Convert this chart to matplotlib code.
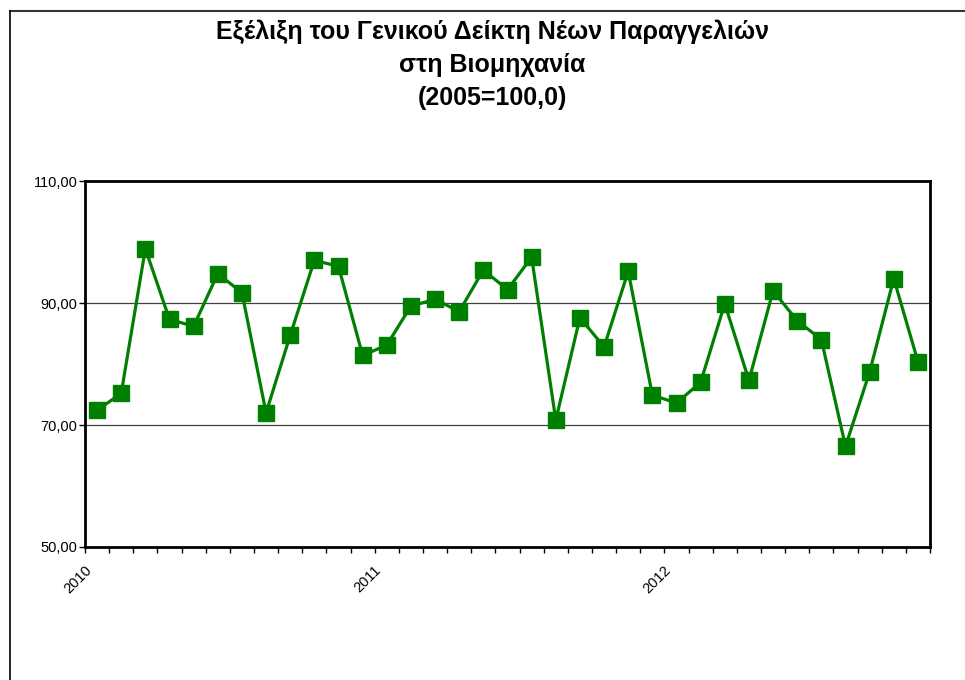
# Γενικός Δείκτης Νέων Παραγγελιών στη Βιομηχανία, 2010-2012 (2005=100,0)

import numpy as np
import pandas as pd
import matplotlib
matplotlib.use('Agg')
import matplotlib.pyplot as plt
from matplotlib.lines import Line2D
from matplotlib.transforms import ScaledTranslation

plt.rcParams['font.family'] = ['Liberation Sans', 'DejaVu Sans']

# monthly index values, Jan 2010 - Nov 2012
months = pd.date_range('2010-01-01', periods=35, freq='MS')
values = [72.4, 75.2, 98.9, 87.3, 86.2, 94.8, 91.7, 72.0, 84.7, 97.0, 96.0, 81.4,
          83.1, 89.5, 90.6, 88.6, 95.4, 92.2, 97.5, 70.8, 87.6, 82.8, 95.2, 74.9,
          73.6, 77.0, 89.9, 77.3, 92.0, 87.1, 84.0, 66.5, 78.7, 94.0, 80.4]

year_labels = ['2010', '2011', '2012']
y_ticks = [50, 70, 90, 110]
y_ticklabels = ['50,00', '70,00', '90,00', '110,00']

title = 'Εξέλιξη του Γενικού Δείκτη Νέων Παραγγελιών\nστη Βιομηχανία\n(2005=100,0)'


def main():
    fig = plt.figure(figsize=(9.65, 6.8), dpi=100)
    ax = fig.add_axes([85 / 965, 133 / 680, 845 / 965, 366 / 680])

    x = np.arange(len(months))
    ax.plot(x, values, '-s', color='#008000', linewidth=2.3,
            markersize=11.5, markerfacecolor='#008000', markeredgecolor='#008000')

    ax.set_xlim(-0.5, len(months) - 0.5)
    ax.set_ylim(50, 110)

    # y axis
    ax.set_yticks(y_ticks)
    ax.set_yticklabels(y_ticklabels, fontsize=10.5)
    ax.tick_params(axis='y', direction='out', length=4, width=1, pad=1.5)
    for v in [70, 90]:
        ax.axhline(v, color='#404040', linewidth=0.9, zorder=0)

    # x axis: ticks between months, labels on January of every year
    jan_idx = [i for i, m in enumerate(months) if m.month == 1]
    ax.set_xticks(jan_idx)
    ax.set_xticklabels(year_labels, fontsize=10.5, rotation=45, ha='right', va='top')
    ax.tick_params(axis='x', which='major', length=0, pad=11.5)
    shift = ScaledTranslation(-3 / 100, 0, fig.dpi_scale_trans)
    for lab in ax.get_xticklabels():
        lab.set_transform(lab.get_transform() + shift)
    ax.set_xticks(np.arange(-0.5, len(months), 1), minor=True)
    ax.tick_params(axis='x', which='minor', direction='out', length=4, width=1)

    for s in ax.spines.values():
        s.set_linewidth(2)
        s.set_color('black')

    fig.text(492 / 965, 1 - 20 / 680, title, ha='center', va='top',
             fontsize=18, fontweight='bold', linespacing=1.47)

    # chart area border
    fig.add_artist(Line2D([10 / 965, 1], [1 - 11 / 680, 1 - 11 / 680],
                          transform=fig.transFigure, color='#333333', linewidth=1.5))
    fig.add_artist(Line2D([10 / 965, 10 / 965], [0, 1 - 11 / 680],
                          transform=fig.transFigure, color='black', linewidth=1.2))

    plt.savefig('out.png', dpi=100)


if __name__ == '__main__':
    main()
